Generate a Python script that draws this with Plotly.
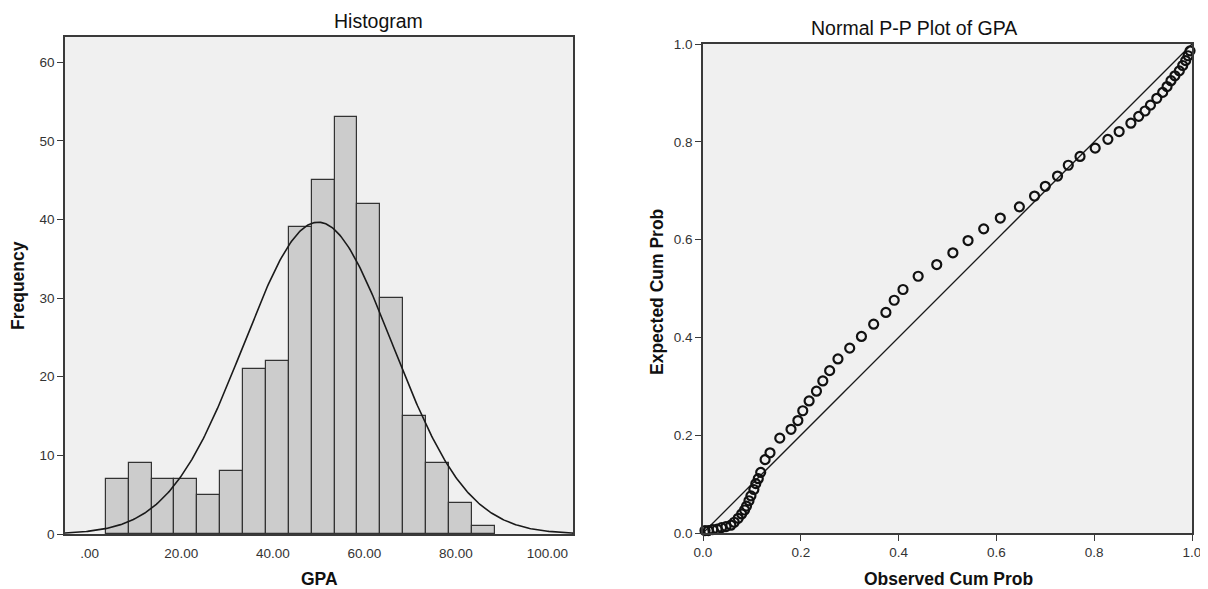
import numpy as np
import plotly.graph_objects as go

# histogram of GPA (bin width 5)
bin_edges = [3.5, 8.5, 13.5, 18.5, 23.5, 28.5, 33.5, 38.5, 43.5, 48.5,
             53.5, 58.5, 63.5, 68.5, 73.5, 78.5, 83.5, 88.5]
counts = [7, 9, 7, 7, 5, 8, 21, 22, 39, 45, 53, 42, 30, 15, 9, 4, 1]
gpa_mean = 49.9
gpa_sd = 16.3

x_tickvals = [0, 20, 40, 60, 80, 100]
x_ticktext = [".00", "20.00", "40.00", "60.00", "80.00", "100.00"]
y_tickvals = [0, 10, 20, 30, 40, 50, 60]

# normal P-P plot points
obs_cum_prob = [0.004, 0.011, 0.020, 0.029, 0.038, 0.047, 0.057, 0.064, 0.072, 0.079,
                0.085, 0.089, 0.094, 0.098, 0.104, 0.108, 0.113, 0.118, 0.127, 0.137,
                0.157, 0.180, 0.194, 0.204, 0.217, 0.232, 0.245, 0.259, 0.276, 0.300,
                0.324, 0.349, 0.374, 0.391, 0.409, 0.440, 0.478, 0.511, 0.542, 0.574,
                0.608, 0.647, 0.678, 0.700, 0.725, 0.747, 0.771, 0.802, 0.828, 0.851,
                0.875, 0.891, 0.904, 0.915, 0.928, 0.940, 0.949, 0.957, 0.965, 0.974,
                0.981, 0.987, 0.992, 0.996]
exp_cum_prob = [0.005, 0.005, 0.007, 0.008, 0.011, 0.013, 0.016, 0.022, 0.030, 0.039,
                0.047, 0.055, 0.066, 0.076, 0.089, 0.101, 0.111, 0.124, 0.150, 0.164,
                0.194, 0.212, 0.230, 0.250, 0.270, 0.290, 0.311, 0.332, 0.356, 0.378,
                0.402, 0.427, 0.451, 0.476, 0.498, 0.525, 0.549, 0.573, 0.598, 0.622,
                0.644, 0.667, 0.689, 0.709, 0.730, 0.752, 0.770, 0.787, 0.805, 0.821,
                0.838, 0.852, 0.863, 0.875, 0.889, 0.901, 0.913, 0.925, 0.935, 0.945,
                0.956, 0.966, 0.976, 0.986]
pp_ticks = [0.0, 0.2, 0.4, 0.6, 0.8, 1.0]

W, H = 1208, 589
OFF = 8  # page body margin, figure sits 8px in from the window corner
FONT = "Liberation Sans, Arial, sans-serif"
FRAME = "#3a3a3a"

edges = np.array(bin_edges)
centers = (edges[:-1] + edges[1:]) / 2
bw = edges[1] - edges[0]
n = sum(counts)

# fitted normal curve, like SPSS draws over the histogram
xc = np.linspace(-5.5, 105.6, 400)
yc = n * bw / (gpa_sd * np.sqrt(2 * np.pi)) * np.exp(-0.5 * ((xc - gpa_mean) / gpa_sd) ** 2)

fig = go.Figure()
fig.add_trace(go.Bar(x=centers, y=counts, width=bw, marker=dict(color="#cccccc", line=dict(color="#333333", width=1.2)),
                     xaxis="x", yaxis="y", showlegend=False))
fig.add_trace(go.Scatter(x=xc, y=yc, mode="lines", line=dict(color="#1a1a1a", width=1.6),
                         xaxis="x", yaxis="y", showlegend=False))
fig.add_trace(go.Scatter(x=[0, 1], y=[0, 1], mode="lines", line=dict(color="#1a1a1a", width=1.3),
                         xaxis="x2", yaxis="y2", showlegend=False))
fig.add_trace(go.Scatter(x=obs_cum_prob, y=exp_cum_prob, mode="markers", cliponaxis=False,
                         marker=dict(symbol="circle-open", size=9, color="#111111", line=dict(width=2.2)),
                         xaxis="x2", yaxis="y2", showlegend=False))

# window pixel -> paper fraction
def px(v):
    return (v - OFF) / W

def py(v):
    return 1 - (v - OFF) / H

axis_common = dict(showline=True, mirror=True, linecolor=FRAME, linewidth=1.5, showgrid=False, zeroline=False,
                   ticks="outside", ticklen=6, tickcolor=FRAME, tickwidth=1.2, automargin=False,
                   tickfont=dict(family=FONT, size=13.5, color="#333333"))
hist_x = dict(axis_common, tickcolor="rgba(0,0,0,0)")

fig.update_layout(
    width=W, height=H,
    margin=dict(l=0, r=0, t=0, b=0),
    paper_bgcolor="white", plot_bgcolor="#f0f0f0",
    bargap=0,
    xaxis=dict(domain=[px(65), px(573)], range=[-5.4, 105.6], tickvals=x_tickvals, ticktext=x_ticktext,
               anchor="y", **hist_x),
    yaxis=dict(domain=[py(534), py(37)], range=[0, 63.2], tickvals=y_tickvals, anchor="x", **axis_common),
    xaxis2=dict(domain=[px(703), px(1192)], range=[0, 1], tickvals=pp_ticks, tickformat=".1f",
                anchor="y2", **axis_common),
    yaxis2=dict(domain=[py(533), py(44)], range=[0, 1], tickvals=pp_ticks, tickformat=".1f",
                anchor="x2", **axis_common),
)

title_font = dict(family=FONT, size=19.5, color="#111111")
label_font = dict(family=FONT, size=17.5, color="#111111")
ann = [
    dict(text="Histogram", x=px(378), y=py(21), font=title_font),
    dict(text="Normal P-P Plot of GPA", x=px(914), y=py(28), font=title_font),
    dict(text="<b>GPA</b>", x=px(319), y=py(579), font=label_font),
    dict(text="<b>Observed Cum Prob</b>", x=px(948), y=py(579), font=label_font),
    dict(text="<b>Frequency</b>", x=px(18), y=py(286), textangle=-90, font=label_font),
    dict(text="<b>Expected Cum Prob</b>", x=px(657), y=py(292), textangle=-90, font=label_font),
]
for a in ann:
    fig.add_annotation(xref="paper", yref="paper", xanchor="center", yanchor="middle", showarrow=False, **a)

fig.write_html("out.html")
